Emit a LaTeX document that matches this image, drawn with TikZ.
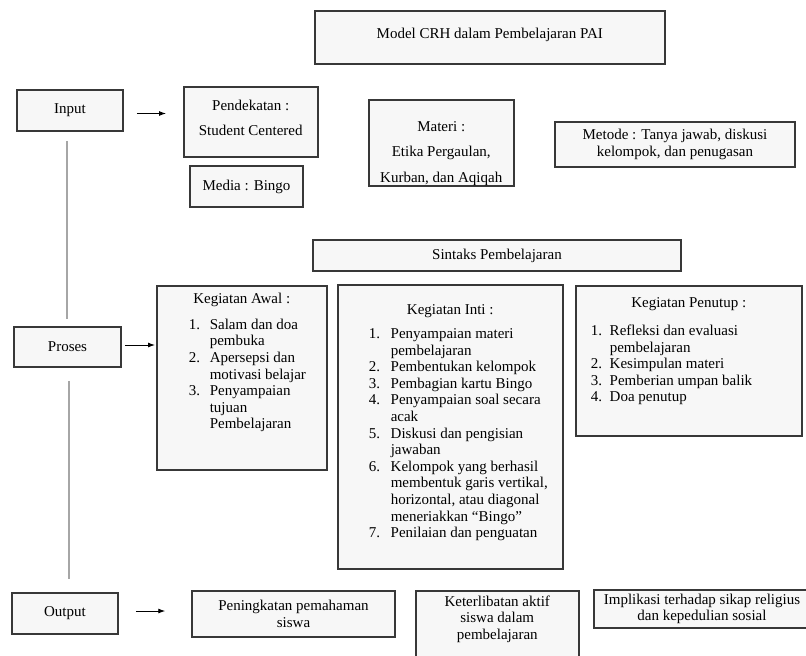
\documentclass[tikz,border=0pt]{standalone}
\usepackage{fontspec}
\setmainfont{Liberation Serif}
\usetikzlibrary{arrows.meta,calc}

% width of the number column in the lists
\newdimen\hangw
% fixed-size text block: width, height, top gap, content
\newcommand{\boxtext}[4]{\parbox[c][#2pt][t]{#1pt}{\vspace*{#3pt}#4}}
% numbered line with hanging indent
\newcommand{\litem}[2]{\par\hangindent=\hangw\hangafter=1\noindent\hbox to\hangw{#1.\hfil}#2}

\tikzset{
  box/.style={draw=black!78, line width=1.5pt, fill=black!3, inner sep=0pt,
    align=center, font=\fontsize{15}{16.6}\selectfont},
  link/.style={-{Latex[length=7pt,width=5pt]}, line width=0.9pt},
  trunk/.style={draw=black!35, line width=1.3pt},
}

\begin{document}
\begin{tikzpicture}[x=1pt,y=-1pt]

    % Page frame, measured in pixels of the original (y runs downwards)
    \useasboundingbox (0,0) rectangle (806,656);

    % Title box
    \node[box, anchor=north west] (model) at (314,10)
      {\boxtext{350}{53}{17.8}{\centering Model CRH dalam Pembelajaran PAI}};

    % The three stages on the left
    \node[box, minimum width=106, minimum height=41] (input) at (70,110.5) {Input};
    \node[box, minimum width=107, minimum height=40] (proses) at (67.5,347) {Proses};
    \node[box, minimum width=106, minimum height=41] (output) at (65,613.5) {Output};

    % Input row
    \node[box, anchor=north west] (pend) at (183,86)
      {\boxtext{134}{70}{13.8}{\centering Pendekatan :\\[8.4pt] Student Centered}};
    \node[box, minimum width=113, minimum height=41] (media) at (246.5,186.5) {Media : Bingo};
    \node[box, anchor=north west] (materi) at (368,99)
      {\boxtext{145}{86}{21.8}{\centering Materi :\\[8.9pt] Etika Pergaulan,\\[8.9pt] Kurban, dan Aqiqah}};
    \node[box, minimum width=240, minimum height=45] (metode) at (675,144.5)
      {Metode : Tanya jawab, diskusi\\ kelompok, dan penugasan};

    % Process row
    \node[box, minimum width=368, minimum height=31] (sintaks) at (497,255.5) {Sintaks Pembelajaran};

    \node[box, anchor=north west] (awal) at (156,285) {\boxtext{170}{184}{7}{%
      {\centering Kegiatan Awal :\par}\vspace{9.5pt}
      \raggedright\leftskip=32pt\hangw=21pt
      \litem{1}{Salam dan doa\newline pembuka}
      \litem{2}{Apersepsi dan\newline motivasi belajar}
      \litem{3}{Penyampaian\newline tujuan\newline Pembelajaran}}};

    \node[box, anchor=north west] (inti) at (337,284) {\boxtext{225}{284}{19.8}{%
      {\centering Kegiatan Inti :\par}\vspace{7.5pt}
      \raggedright\leftskip=31pt\hangw=22pt
      \litem{1}{Penyampaian materi\newline pembelajaran}
      \litem{2}{Pembentukan kelompok}
      \litem{3}{Pembagian kartu Bingo}
      \litem{4}{Penyampaian soal secara\newline acak}
      \litem{5}{Diskusi dan pengisian\newline jawaban}
      \litem{6}{Kelompok yang berhasil\newline membentuk garis vertikal,\newline
        horizontal, atau diagonal\newline meneriakkan “Bingo”}
      \litem{7}{Penilaian dan penguatan}}};

    \node[box, anchor=north west] (penutup) at (575,285) {\boxtext{226}{150}{11.8}{%
      {\centering Kegiatan Penutup :\par}\vspace{11.5pt}
      \raggedright\leftskip=15pt\hangw=19pt
      \litem{1}{Refleksi dan evaluasi\newline pembelajaran}
      \litem{2}{Kesimpulan materi}
      \litem{3}{Pemberian umpan balik}
      \litem{4}{Doa penutup}}};

    % Output row
    \node[box, minimum width=203, minimum height=46] (paham) at (293.5,614)
      {Peningkatan pemahaman\\ siswa};
    \node[box, anchor=north west] (aktif) at (415,590)
      {\boxtext{163}{74}{4.8}{\centering Keterlibatan aktif\\ siswa dalam\\ pembelajaran}};
    \node[box, minimum width=216, minimum height=38] (implikasi) at (702,609)
      {Implikasi terhadap sikap religius\\ dan kepedulian sosial};

    % Short arrows from each stage to its row
    \draw[link] ($(input.east)+(13,3)$) -- ($(input.east -| pend.west)+(-17,3)$);
    \draw[link] ($(proses.east)+(3,-2)$) -- ($(proses.east -| awal.west)+(-1,-2)$);
    \draw[link] ($(output.east)+(17,-2.5)$) -- ($(output.east -| paham.west)+(-26,-2.5)$);

    % Grey lines joining the stages
    \draw[trunk] ($(input.south)+(-3,9)$) -- ($(input.south |- proses.north)+(-3,-7)$);
    \draw[trunk] ($(proses.south)+(1.5,13)$) -- ($(proses.south |- output.north)+(1.5,-13)$);

\end{tikzpicture}
\end{document}
